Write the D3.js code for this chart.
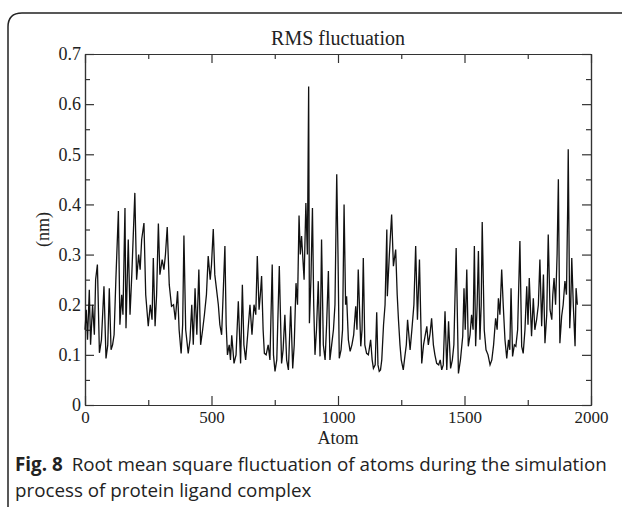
<!DOCTYPE html>
<html lang="en">
<head>
<meta charset="UTF-8">
<title>RMS fluctuation</title>
<script src="https://d3js.org/d3.v7.min.js"></script>
<style>
  body { margin: 0; background: #fff; }
  svg { display: block; }
  .axis path, .axis line { stroke: #333; stroke-width: 1.2; }
  .axis text { font-family: "Liberation Serif", serif; font-size: 17px; fill: #222; }
  .yaxis text { font-size: 18px; }
  .caption { font-family: "Open Sans", sans-serif; font-size: 18.8px; fill: #222; }
</style>
</head>
<body>
<svg id="chart" width="622" height="507"></svg>
<script>
// atom index / RMSF (nm) (peaks and valleys)
const atoms = [0,5,10,17,22,30,37,42,49,57,65,75,83,90,96,103,109,115,122,132,138,145,150,158,162,171,178,185,197,204,212,218,224,233,240,250,258,265,270,277,283,290,296,305,312,318,325,333,342,350,357,366,372,380,386,391,398,408,415,422,428,435,442,450,457,465,472,480,487,495,500,507,513,520,527,533,540,546,553,558,563,570,575,580,589,597,606,615,622,628,635,643,652,660,668,675,681,688,693,698,704,709,716,724,731,740,745,751,758,768,777,783,790,797,804,813,821,827,834,840,846,851,856,866,873,879,884,887,893,899,904,909,915,922,929,935,942,949,955,962,968,975,982,988,995,1000,1005,1012,1018,1024,1030,1034,1041,1048,1055,1062,1070,1075,1080,1090,1095,1100,1106,1113,1120,1129,1135,1140,1147,1153,1158,1163,1168,1173,1180,1186,1193,1195,1203,1212,1219,1228,1234,1239,1245,1250,1258,1265,1270,1275,1285,1292,1300,1307,1314,1322,1331,1338,1345,1351,1357,1364,1370,1377,1383,1390,1398,1404,1410,1416,1423,1430,1437,1445,1452,1458,1467,1476,1484,1493,1498,1503,1509,1515,1522,1528,1534,1539,1544,1550,1555,1561,1566,1570,1578,1585,1593,1601,1608,1615,1623,1629,1634,1640,1647,1653,1660,1667,1674,1679,1684,1690,1697,1703,1710,1719,1726,1732,1739,1746,1751,1756,1765,1772,1778,1785,1792,1798,1805,1812,1818,1825,1831,1838,1845,1849,1854,1860,1866,1871,1877,1884,1890,1897,1903,1908,1910,1913,1916,1920,1924,1930,1937,1941,1946];
const rmsf = [0.15,0.19,0.13,0.23,0.12,0.2,0.14,0.25,0.28,0.104,0.13,0.237,0.093,0.12,0.233,0.11,0.12,0.14,0.25,0.387,0.16,0.22,0.18,0.393,0.153,0.33,0.18,0.26,0.423,0.25,0.3,0.27,0.33,0.363,0.22,0.157,0.2,0.17,0.293,0.157,0.22,0.362,0.26,0.29,0.27,0.3,0.355,0.24,0.197,0.2,0.17,0.227,0.15,0.103,0.16,0.338,0.15,0.103,0.13,0.2,0.12,0.233,0.14,0.27,0.12,0.15,0.18,0.22,0.297,0.25,0.28,0.351,0.26,0.23,0.2,0.16,0.14,0.22,0.317,0.16,0.1,0.12,0.09,0.139,0.083,0.1,0.207,0.083,0.24,0.12,0.09,0.14,0.2,0.14,0.2,0.18,0.297,0.19,0.22,0.257,0.15,0.103,0.1,0.12,0.09,0.28,0.1,0.067,0.09,0.277,0.083,0.11,0.18,0.09,0.07,0.197,0.073,0.12,0.243,0.2,0.378,0.3,0.337,0.25,0.403,0.3,0.635,0.163,0.25,0.393,0.2,0.1,0.15,0.247,0.097,0.33,0.12,0.09,0.16,0.267,0.09,0.12,0.15,0.2,0.46,0.3,0.093,0.11,0.15,0.4,0.2,0.217,0.13,0.107,0.12,0.14,0.197,0.15,0.27,0.117,0.15,0.293,0.12,0.103,0.1,0.13,0.09,0.073,0.08,0.185,0.08,0.067,0.07,0.09,0.16,0.2,0.35,0.217,0.3,0.38,0.277,0.31,0.22,0.17,0.12,0.09,0.07,0.1,0.12,0.17,0.11,0.15,0.2,0.317,0.17,0.29,0.083,0.12,0.14,0.157,0.12,0.143,0.173,0.12,0.1,0.083,0.08,0.09,0.07,0.08,0.187,0.07,0.167,0.073,0.09,0.12,0.313,0.063,0.09,0.137,0.233,0.15,0.27,0.117,0.14,0.18,0.15,0.317,0.117,0.2,0.307,0.13,0.2,0.365,0.15,0.11,0.1,0.08,0.09,0.12,0.173,0.15,0.213,0.18,0.27,0.2,0.13,0.093,0.13,0.11,0.233,0.097,0.12,0.117,0.15,0.327,0.117,0.103,0.15,0.237,0.16,0.253,0.137,0.213,0.15,0.17,0.2,0.29,0.157,0.26,0.123,0.18,0.34,0.19,0.17,0.22,0.253,0.2,0.3,0.45,0.123,0.177,0.2,0.247,0.22,0.4,0.51,0.34,0.153,0.2,0.293,0.2,0.117,0.233,0.2];

const xMajor = [0, 500, 1000, 1500, 2000];
const xMinor = [250, 750, 1250, 1750];
const yMajor = [0, 0.1, 0.2, 0.3, 0.4, 0.5, 0.6, 0.7];
const yMinor = [0.05, 0.15, 0.25, 0.35, 0.45, 0.55, 0.65];

const title = "RMS fluctuation";
const xTitle = "Atom";
const yTitle = "(nm)";
const captionBold = "Fig. 8";
const captionLines = ["Root mean square fluctuation of atoms during the simulation",
                      "process of protein ligand complex"];

const margin = {left: 85, right: 31, top: 54, bottom: 102};
const W = 622, H = 507;
const iw = W - margin.left - margin.right;
const ih = H - margin.top - margin.bottom;

const svg = d3.select("#chart");

// page frame with rounded corner
svg.append("path")
   .attr("d", "M8,520 L8,27 Q8,13 22,13 L630,13")
   .attr("fill", "none")
   .attr("stroke", "#222")
   .attr("stroke-width", 1.5);

const g = svg.append("g").attr("transform", `translate(${margin.left},${margin.top})`);

const x = d3.scaleLinear().domain([0, 2000]).range([0, iw]);
const y = d3.scaleLinear().domain([0, 0.7]).range([ih, 0]);

const fmtY = d => d === 0 ? "0" : d3.format(".1f")(d);

// major ticks, pointing inward
g.append("g").attr("class", "axis")
 .attr("transform", `translate(0,${ih})`)
 .call(d3.axisBottom(x).tickValues(xMajor).tickSize(-9).tickSizeOuter(0).tickPadding(6).tickFormat(d3.format("d")));
g.append("g").attr("class", "axis")
 .call(d3.axisTop(x).tickValues(xMajor).tickSize(-9).tickSizeOuter(0).tickFormat(""));
g.append("g").attr("class", "axis yaxis")
 .call(d3.axisLeft(y).tickValues(yMajor).tickSize(-9).tickSizeOuter(0).tickPadding(4).tickFormat(fmtY));
g.append("g").attr("class", "axis")
 .attr("transform", `translate(${iw},0)`)
 .call(d3.axisRight(y).tickValues(yMajor).tickSize(-9).tickSizeOuter(0).tickFormat(""));

// minor ticks
g.append("g").attr("class", "axis minor")
 .attr("transform", `translate(0,${ih})`)
 .call(d3.axisBottom(x).tickValues(xMinor).tickSize(-5).tickSizeOuter(0).tickFormat(""));
g.append("g").attr("class", "axis minor")
 .call(d3.axisTop(x).tickValues(xMinor).tickSize(-5).tickSizeOuter(0).tickFormat(""));
g.append("g").attr("class", "axis minor")
 .call(d3.axisLeft(y).tickValues(yMinor).tickSize(-5).tickSizeOuter(0).tickFormat(""));
g.append("g").attr("class", "axis minor")
 .attr("transform", `translate(${iw},0)`)
 .call(d3.axisRight(y).tickValues(yMinor).tickSize(-5).tickSizeOuter(0).tickFormat(""));

// data line
const line = d3.line()
   .x((d, i) => x(atoms[i]))
   .y(d => y(d));

g.append("path")
 .datum(rmsf)
 .attr("d", line)
 .attr("fill", "none")
 .attr("stroke", "#111")
 .attr("stroke-width", 1.3);

// titles
svg.append("text")
   .attr("x", margin.left + iw / 2).attr("y", 45)
   .attr("text-anchor", "middle")
   .style("font-family", "Liberation Serif, serif").style("font-size", "20px").attr("fill", "#222")
   .text(title);

svg.append("text")
   .attr("x", margin.left + iw / 2).attr("y", 444)
   .attr("text-anchor", "middle")
   .style("font-family", "Liberation Serif, serif").style("font-size", "18px").attr("fill", "#222")
   .text(xTitle);

svg.append("text")
   .attr("transform", `translate(49,${margin.top + ih / 2}) rotate(-90)`)
   .attr("text-anchor", "middle")
   .style("font-family", "Liberation Serif, serif").style("font-size", "18px").attr("fill", "#222")
   .text(yTitle);

// caption
const cap = svg.append("text").attr("class", "caption").attr("x", 15).attr("y", 471);
cap.append("tspan").style("font-weight", "bold").text(captionBold);
cap.append("tspan").attr("dx", 9).text(captionLines[0]);
svg.append("text").attr("class", "caption").attr("x", 15).attr("y", 497).text(captionLines[1]);
</script>
</body>
</html>
